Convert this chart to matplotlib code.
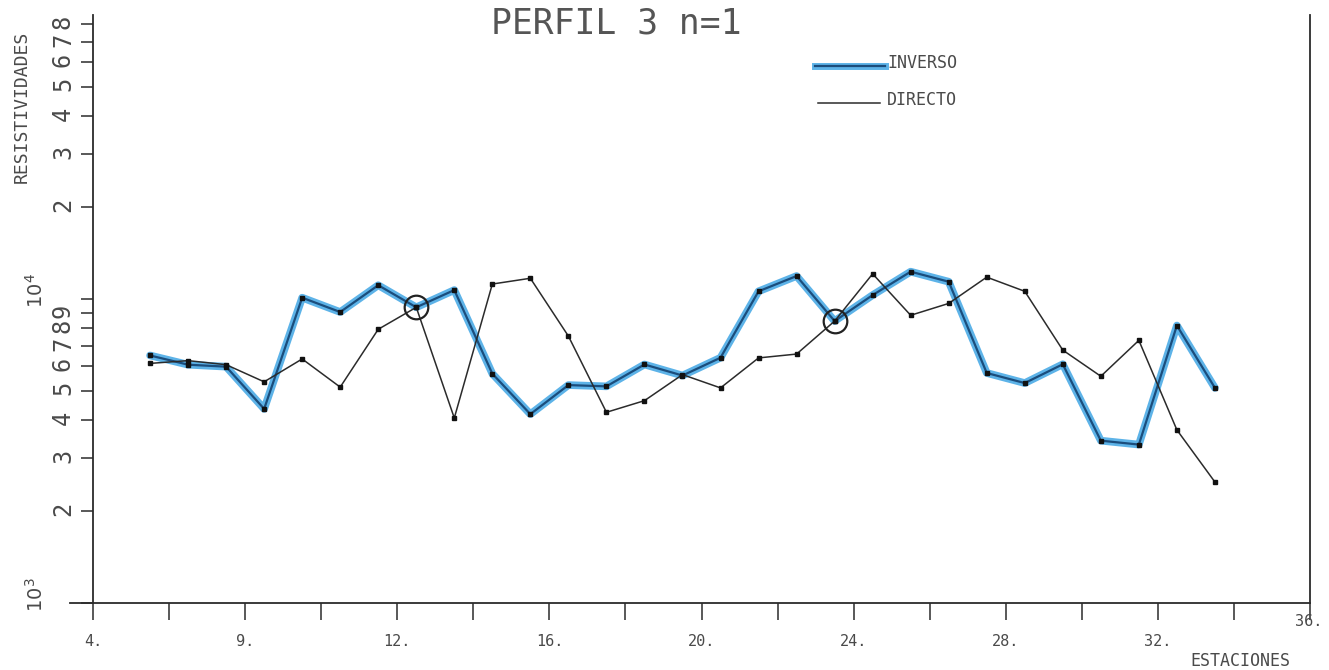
import matplotlib
matplotlib.use("Agg")
import matplotlib.pyplot as plt
from matplotlib.lines import Line2D
from matplotlib.ticker import FixedLocator, FixedFormatter, NullFormatter

# stations and resistivities
estaciones = [5.5, 6.5, 7.5, 8.5, 9.5, 10.5, 11.5, 12.5, 13.5, 14.5,
              15.5, 16.5, 17.5, 18.5, 19.5, 20.5, 21.5, 22.5, 23.5, 24.5,
              25.5, 26.5, 27.5, 28.5, 29.5, 30.5, 31.5, 32.5, 33.5]
inverso = [6520, 6080, 5990, 4350, 10100, 9060, 11100, 9390, 10700, 5680,
           4180, 5210, 5160, 6090, 5600, 6410, 10600, 11900, 8460, 10300,
           12300, 11400, 5710, 5290, 6100, 3420, 3320, 8180, 5100]
directo = [6140, 6270, 6080, 5340, 6350, 5130, 7950, 9390, 4060, 11200,
           11700, 7550, 4240, 4630, 5640, 5100, 6400, 6590, 8460, 12100,
           8840, 9670, 11800, 10600, 6790, 5570, 7310, 3710, 2500]
marcadas = [12.5, 23.5]

xticks_major = [4, 8, 12, 16, 20, 24, 28, 32, 36]
xtick_labels = ["4.", "9.", "12.", "16.", "20.", "24.", "28.", "32.", ""]
xticks_minor = [6, 10, 14, 18, 22, 26, 30, 34]
yticks_minor = [2e3, 3e3, 4e3, 5e3, 6e3, 7e3, 8e3, 9e3,
                2e4, 3e4, 4e4, 5e4, 6e4, 7e4, 8e4]
ytick_labels = ["2", "3", "4", "5", "6", "7", "8", "9",
                "2", "3", "4", "5", "6", "7", "8"]
decadas = [(1e3, "$10^{3}$"), (1e4, "$10^{4}$")]

plt.rcParams["font.family"] = ["DejaVu Sans Mono", "DejaVu Sans"]
plt.rcParams["mathtext.fontset"] = "dejavusans"
INK = "#2b2b2b"
TXT = "#4a4a4a"

W, H = 1329, 670
fig = plt.figure(figsize=(W / 100, H / 100), dpi=100)
ax = fig.add_axes([93 / W, 1 - 603 / H, (1310 - 93) / W, (603 - 15) / H])
ax.set_yscale("log")
ax.set_xlim(4, 36)
ax.set_ylim(1000, 10 ** (3 + 588 / 304))

ax.spines["top"].set_visible(False)
for s in ["left", "bottom", "right"]:
    ax.spines[s].set_color(INK)
    ax.spines[s].set_linewidth(1.3)
# x axis runs a bit past the y axis on the left
ax.plot([-23 / 1217, 0], [0, 0], transform=ax.transAxes, clip_on=False,
        color=INK, lw=1.3)

ax.set_xticks(xticks_major)
ax.set_xticklabels(xtick_labels)
ax.set_xticks(xticks_minor, minor=True)
ax.tick_params(axis="x", which="both", direction="out", length=12, width=1.1,
               pad=10, labelsize=11, colors=INK, labelcolor=TXT)

ax.yaxis.set_major_locator(FixedLocator([1e3, 1e4]))
ax.yaxis.set_major_formatter(NullFormatter())
ax.yaxis.set_minor_locator(FixedLocator(yticks_minor))
ax.yaxis.set_minor_formatter(FixedFormatter(ytick_labels))
ax.tick_params(axis="y", which="both", direction="out", length=9, width=1.1,
               pad=4, labelsize=17, labelrotation=90, colors=INK,
               labelcolor=TXT)

for dec, lab in decadas:
    ax.annotate(lab, xy=(0, dec), xycoords=("axes fraction", "data"),
                xytext=(-41, 6), textcoords="offset points", rotation=90,
                ha="center", va="center", fontsize=14, color=TXT)

# lines
ax.plot(estaciones, inverso, color="#5db3e8", lw=5.5, solid_joinstyle="round",
        solid_capstyle="round", zorder=2)
ax.plot(estaciones, inverso, color="#1b4d7c", lw=1.6, marker="s", ms=3.5,
        mfc="#111111", mec="#111111", zorder=3)
ax.plot(estaciones, directo, color=INK, lw=1.1, marker="s", ms=3.5,
        mfc="#111111", mec="#111111", zorder=4)
circ_y = [inverso[estaciones.index(e)] for e in marcadas]
ax.plot(marcadas, circ_y, "o", ms=17, mfc="none", mec="#222222", mew=1.6,
        zorder=5)

# texts
fig.text(616 / W, 1 - 24 / H, "PERFIL 3 n=1", ha="center", va="center",
         fontsize=25, color="#555555")
fig.text(22 / W, 1 - 107 / H, "RESISTIVIDADES", rotation=90, ha="center",
         va="center", fontsize=13, color=TXT)
fig.text(1309 / W, 1 - 621 / H, "36.", ha="center", va="center", fontsize=11,
         color=TXT)
fig.text(1240 / W, 1 - 661 / H, "ESTACIONES", ha="center", va="center",
         fontsize=12, color=TXT)

# legend drawn by hand like the plotter did
fig.add_artist(Line2D([815 / W, 885 / W], [1 - 66 / H] * 2, color="#5db3e8",
                      lw=5))
fig.add_artist(Line2D([815 / W, 885 / W], [1 - 66 / H] * 2, color="#1b4d7c",
                      lw=1.6))
fig.add_artist(Line2D([818 / W, 880 / W], [1 - 103 / H] * 2, color=INK,
                      lw=1.1))
fig.text(887 / W, 1 - 63 / H, "INVERSO", ha="left", va="center", fontsize=12,
         color=TXT)
fig.text(887 / W, 1 - 100 / H, "DIRECTO", ha="left", va="center", fontsize=12,
         color=TXT)

fig.savefig("out.png", dpi=100)
